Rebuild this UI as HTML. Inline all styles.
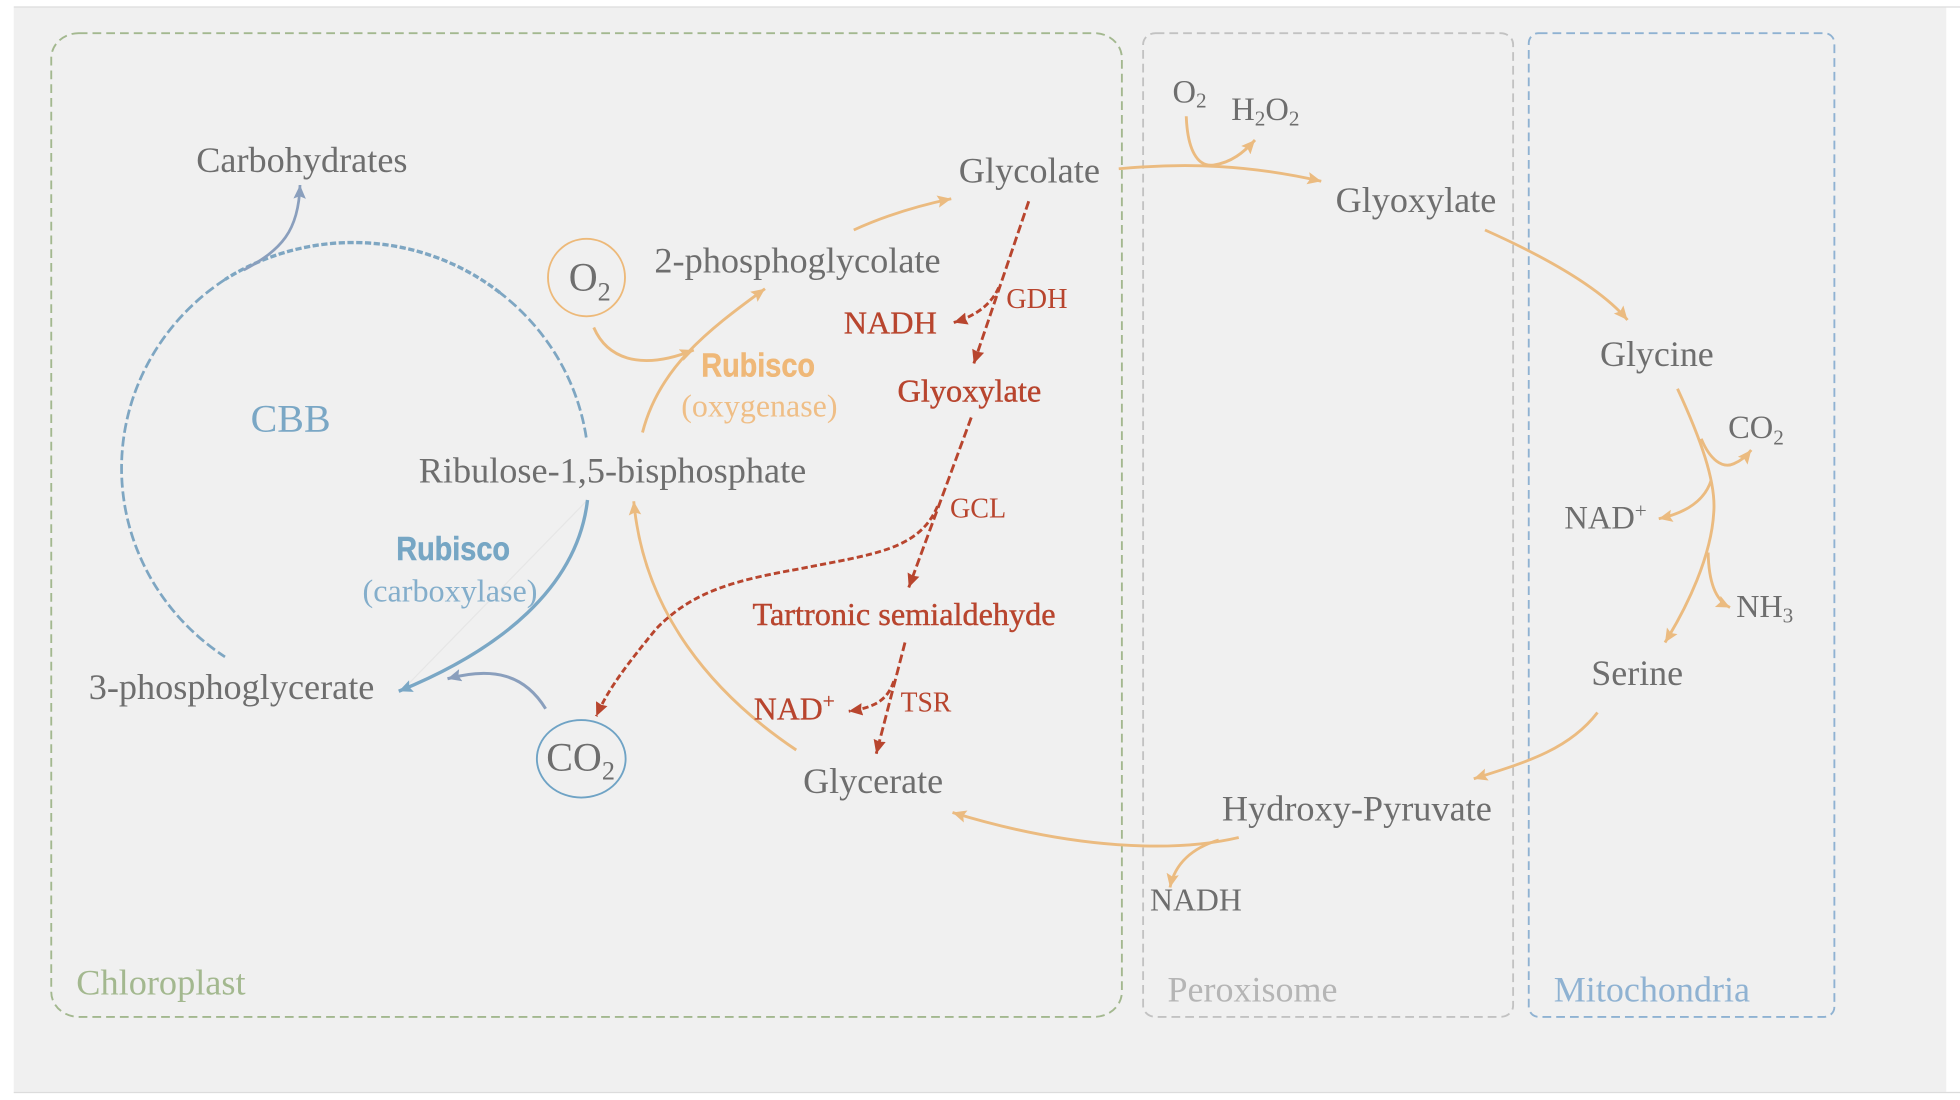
<!DOCTYPE html>
<html><head><meta charset="utf-8"><title>Photorespiration</title>
<style>
html,body{margin:0;padding:0;background:#fff;width:1960px;height:1100px;overflow:hidden}
svg{display:block}
text{font-family:"Liberation Serif",serif;fill:#6e6e6e;font-size:29px}
.r{fill:#b8452e}
.s{font-size:25.5px}
.k{font-family:"Liberation Sans",sans-serif;font-weight:700;font-size:27px}
path{fill:none}
.o{stroke:#ebbb80;stroke-width:2.3}
.d{stroke:#b8452e;stroke-width:2.3}
</style></head><body>
<svg xmlns="http://www.w3.org/2000/svg" width="1960" height="1100" viewBox="0 0 1568 880">
<defs>
<marker id="ao" markerUnits="userSpaceOnUse" markerWidth="14" markerHeight="12" refX="11" refY="5" orient="auto"><polygon points="0,0 11,5 0,10 2,5" fill="#ebbb80"/></marker>
<marker id="ar" markerUnits="userSpaceOnUse" markerWidth="14" markerHeight="12" refX="11" refY="5" orient="auto"><polygon points="0,0 11,5 0,10 1,5" fill="#b8452e"/></marker>
<marker id="ab" markerUnits="userSpaceOnUse" markerWidth="14" markerHeight="12" refX="11" refY="5" orient="auto"><polygon points="0,0 11,5 0,10 2,5" fill="#7aa7c5"/></marker>
<marker id="ag" markerUnits="userSpaceOnUse" markerWidth="14" markerHeight="12" refX="11" refY="5" orient="auto"><polygon points="0,0 11,5 0,10 2,5" fill="#8a9fbd"/></marker>
</defs>
<rect x="11" y="6" width="1546" height="868" fill="#f0f0f0"/>
<path d="M11 5.6H1568" stroke="#dcdcdc" stroke-width="1"/>
<path d="M11 874H1568" stroke="#dcdcdc" stroke-width="1"/>

<rect x="41" y="26.5" width="856.5" height="787" rx="22" ry="20" fill="none" stroke="#a3b88f" stroke-width="1.5" stroke-dasharray="7 4"/>
<rect x="914.5" y="26.5" width="296" height="787" rx="10" ry="9" fill="none" stroke="#c2c2c2" stroke-width="1.5" stroke-dasharray="7 4"/>
<rect x="1223" y="26.5" width="244.5" height="787" rx="8" ry="8" fill="none" stroke="#8fb2d2" stroke-width="1.5" stroke-dasharray="7 4"/>

<!-- CBB cycle -->
<path d="M469 350 A187.5 182 0 0 0 400 234.2" stroke="#7ea6c2" stroke-width="2.2" stroke-dasharray="8 3"/>
<path d="M400 234.2 A187.5 182 0 0 0 180 223.6" stroke="#7ea6c2" stroke-width="2.7" stroke-dasharray="5 2"/>
<path d="M180 223.6 A187.5 182 0 0 0 180 525.5" stroke="#7ea6c2" stroke-width="2.2" stroke-dasharray="8 3"/>
<path d="M470 400 L322 552" stroke="#e6e6e6" stroke-width="1"/>
<path d="M470 400 C462 470 400 520 319 553" stroke="#7aa7c5" stroke-width="2.7" marker-end="url(#ab)"/>
<path d="M436.5 567 C420 540 395 533 358 543" stroke="#8a9fbd" stroke-width="2.4" marker-end="url(#ag)"/>
<path d="M195 216 C225 200 239 185 240 148" stroke="#8a9fbd" stroke-width="2.2" marker-end="url(#ag)"/>

<ellipse cx="469.2" cy="222" rx="30.8" ry="31" fill="none" stroke="#edb979" stroke-width="1.5"/>
<ellipse cx="465" cy="607" rx="35.5" ry="31" fill="none" stroke="#6fa3c5" stroke-width="1.5"/>

<!-- orange -->
<path class="o" d="M475 262 C485 285 510 298 555 280" marker-end="url(#ao)"/>
<path class="o" d="M514 346 C527 295 565 265 612 231" marker-end="url(#ao)"/>
<path class="o" d="M683 184 Q718 168 761 159" marker-end="url(#ao)"/>
<path class="o" d="M637 600 C570 555 515 490 507 401" marker-end="url(#ao)"/>
<path class="o" d="M895 135 C950 130 1000 132 1057 145" marker-end="url(#ao)"/>
<path class="o" d="M949 93 C950 120 958 134 971 132 C985 130 995 122 1004 112" marker-end="url(#ao)"/>
<path class="o" d="M1188 184 C1235 205 1280 230 1302 256" marker-end="url(#ao)"/>
<path class="o" d="M1342 311 C1360 350 1373 385 1371 410 C1369 445 1350 485 1332 514" marker-end="url(#ao)"/>
<path class="o" d="M1361 351 C1368 368 1378 375 1387 371 C1392 369 1397 365 1401 360" marker-end="url(#ao)"/>
<path class="o" d="M1369 384 C1364 400 1350 410 1327 415" marker-end="url(#ao)"/>
<path class="o" d="M1366.5 442 C1367 465 1372 480 1384 486" marker-end="url(#ao)"/>
<path class="o" d="M1278 570 C1255 600 1220 610 1179 623" marker-end="url(#ao)"/>
<path class="o" d="M991 670 C940 682 860 680 762 650" marker-end="url(#ao)"/>
<path class="o" d="M975 672 C955 678 940 690 936 710" marker-end="url(#ao)"/>

<!-- red dashed -->
<path class="d" d="M823 161 L779 291" stroke-dasharray="7 3" marker-end="url(#ar)"/>
<path class="d" d="M799 230 Q790 250 763 258" stroke-dasharray="5 2.5" marker-end="url(#ar)"/>
<path class="d" d="M777 334 L727 470" stroke-dasharray="7 3" marker-end="url(#ar)"/>
<path class="d" d="M750 405 C735 440 700 443 640 455 C590 464 555 472 525 503 C503 530 487 550 477 573" stroke-dasharray="5 2.5" marker-end="url(#ar)"/>
<path class="d" d="M724 514 L701 603" stroke-dasharray="7 3" marker-end="url(#ar)"/>
<path class="d" d="M715 545 C710 560 700 566 679 569" stroke-dasharray="5 2.5" marker-end="url(#ar)"/>

<!-- labels -->
<text x="157" y="137.5" textLength="169" lengthAdjust="spacingAndGlyphs">Carbohydrates</text>
<text x="767" y="146" textLength="113" lengthAdjust="spacingAndGlyphs">Glycolate</text>
<text x="1068.5" y="169.5" textLength="128.5" lengthAdjust="spacingAndGlyphs">Glyoxylate</text>
<text x="523.5" y="218" textLength="229" lengthAdjust="spacingAndGlyphs">2-phosphoglycolate</text>
<text x="335" y="385.8" textLength="310" lengthAdjust="spacingAndGlyphs">Ribulose-1,5-bisphosphate</text>
<text x="71" y="559.2" textLength="228.5" lengthAdjust="spacingAndGlyphs">3-phosphoglycerate</text>
<text x="642.5" y="634.2" textLength="112" lengthAdjust="spacingAndGlyphs">Glycerate</text>
<text x="977.5" y="656.2" textLength="216" lengthAdjust="spacingAndGlyphs">Hydroxy-Pyruvate</text>
<text x="1273" y="547.8" textLength="73.5" lengthAdjust="spacingAndGlyphs">Serine</text>
<text x="1280" y="292.8" textLength="91" lengthAdjust="spacingAndGlyphs">Glycine</text>
<text class="s" x="920" y="728.5" textLength="73.5" lengthAdjust="spacingAndGlyphs">NADH</text>

<text x="455" y="232.5" style="font-size:32px">O<tspan dy="8" style="font-size:21px">2</tspan></text>
<text x="437" y="616.5" style="font-size:32px">CO<tspan dy="7" style="font-size:21px">2</tspan></text>
<text x="938" y="82" style="font-size:26px">O<tspan dy="4" style="font-size:17px">2</tspan></text>
<text x="985" y="96" style="font-size:26px">H<tspan dy="4.5" style="font-size:17px">2</tspan><tspan dy="-4.5">O</tspan><tspan dy="4.5" style="font-size:17px">2</tspan></text>
<text x="1382.5" y="350.5" style="font-size:26px">CO<tspan dy="5" style="font-size:17px">2</tspan></text>
<text x="1389" y="493.5" style="font-size:25.7px">NH<tspan dy="4.5" style="font-size:17px">3</tspan></text>
<text x="1251.5" y="422.8" style="font-size:26px">NAD<tspan dy="-9" style="font-size:17px">+</tspan></text>

<text x="200.5" y="345" textLength="64" lengthAdjust="spacingAndGlyphs" style="font-size:31px;fill:#7aa7c5">CBB</text>
<text class="k" x="561" y="301" textLength="91" lengthAdjust="spacingAndGlyphs" style="fill:#efb878" stroke="#efb878" stroke-width=".4">Rubisco</text>
<text class="s" x="545" y="333.3" textLength="125" lengthAdjust="spacingAndGlyphs" style="fill:#efbe86">(oxygenase)</text>
<text class="k" x="317" y="448" textLength="91" lengthAdjust="spacingAndGlyphs" style="fill:#76a6c4" stroke="#76a6c4" stroke-width=".4">Rubisco</text>
<text class="s" x="290" y="481" textLength="140" lengthAdjust="spacingAndGlyphs" style="fill:#84aecb">(carboxylase)</text>

<text class="r s" x="675" y="266.8" textLength="74.5" lengthAdjust="spacingAndGlyphs" stroke="#b8452e" stroke-width=".25">NADH</text>
<text class="r" x="805" y="246.5" textLength="49" lengthAdjust="spacingAndGlyphs" style="font-size:22.5px">GDH</text>
<text class="r s" x="718" y="321" textLength="115" lengthAdjust="spacingAndGlyphs" stroke="#b8452e" stroke-width=".35">Glyoxylate</text>
<text class="r" x="760" y="414" textLength="45" lengthAdjust="spacingAndGlyphs" style="font-size:22.5px">GCL</text>
<text class="r s" x="602" y="500" textLength="242.5" lengthAdjust="spacingAndGlyphs" stroke="#b8452e" stroke-width=".35">Tartronic semialdehyde</text>
<text class="r s" x="603" y="575.5" stroke="#b8452e" stroke-width=".25">NAD<tspan dy="-9" style="font-size:17px">+</tspan></text>
<text class="r" x="720.5" y="569" textLength="40.5" lengthAdjust="spacingAndGlyphs" style="font-size:22.5px">TSR</text>

<text x="61" y="795.5" textLength="135.5" lengthAdjust="spacingAndGlyphs" style="fill:#a3b88f">Chloroplast</text>
<text x="934" y="801" textLength="136" lengthAdjust="spacingAndGlyphs" style="fill:#b5b5b5">Peroxisome</text>
<text x="1243" y="801" textLength="157" lengthAdjust="spacingAndGlyphs" style="fill:#8fb2d2">Mitochondria</text>
</svg>
</body></html>
